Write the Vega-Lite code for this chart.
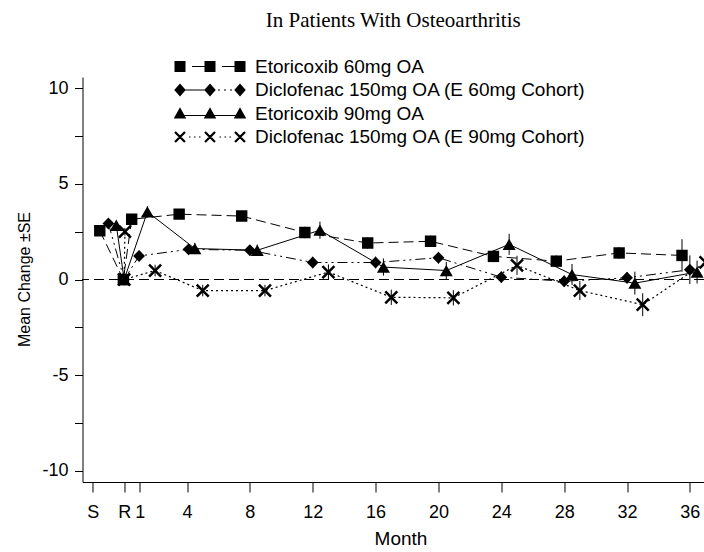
{
  "$schema": "https://vega.github.io/schema/vega-lite/v6.json",
  "width": 621.5,
  "height": 405,
  "autosize": {"type": "none"},
  "padding": {"left": 82.5, "top": 77, "right": 0, "bottom": 70},
  "background": "white",
  "title": {"text": "In Patients With  Osteoarthritis", "font": "Liberation Serif", "fontSize": 21, "fontWeight": "normal", "color": "black", "anchor": "middle", "frame": "group", "offset": 26, "dx": 0},
  "config": {"view": {"stroke": null}},
  "datasets": {
    "d": [
      {"series": "Diclofenac 150mg OA (E 90mg Cohort)", "seq": 0, "month": 0.05, "value": 2.5, "se": 0.2},
      {"series": "Diclofenac 150mg OA (E 90mg Cohort)", "seq": 1, "month": 0, "value": 0, "se": 0},
      {"series": "Diclofenac 150mg OA (E 90mg Cohort)", "seq": 2, "month": 1.97, "value": 0.47, "se": 0.3},
      {"series": "Diclofenac 150mg OA (E 90mg Cohort)", "seq": 3, "month": 5.0, "value": -0.58, "se": 0.3},
      {"series": "Diclofenac 150mg OA (E 90mg Cohort)", "seq": 4, "month": 8.96, "value": -0.58, "se": 0.3},
      {"series": "Diclofenac 150mg OA (E 90mg Cohort)", "seq": 5, "month": 13.0, "value": 0.39, "se": 0.4},
      {"series": "Diclofenac 150mg OA (E 90mg Cohort)", "seq": 6, "month": 17.0, "value": -0.93, "se": 0.4},
      {"series": "Diclofenac 150mg OA (E 90mg Cohort)", "seq": 7, "month": 20.95, "value": -0.96, "se": 0.4},
      {"series": "Diclofenac 150mg OA (E 90mg Cohort)", "seq": 8, "month": 25.0, "value": 0.74, "se": 0.5},
      {"series": "Diclofenac 150mg OA (E 90mg Cohort)", "seq": 9, "month": 29.0, "value": -0.58, "se": 0.5},
      {"series": "Diclofenac 150mg OA (E 90mg Cohort)", "seq": 10, "month": 33.0, "value": -1.32, "se": 0.6},
      {"series": "Diclofenac 150mg OA (E 90mg Cohort)", "seq": 11, "month": 37.0, "value": 0.9, "se": 0.6},
      {"series": "Etoricoxib 90mg OA", "seq": 0, "month": -0.5, "value": 2.84, "se": 0.2},
      {"series": "Etoricoxib 90mg OA", "seq": 1, "month": 0, "value": 0, "se": 0},
      {"series": "Etoricoxib 90mg OA", "seq": 2, "month": 1.48, "value": 3.54, "se": 0.3},
      {"series": "Etoricoxib 90mg OA", "seq": 3, "month": 4.5, "value": 1.62, "se": 0.3},
      {"series": "Etoricoxib 90mg OA", "seq": 4, "month": 8.47, "value": 1.53, "se": 0.3},
      {"series": "Etoricoxib 90mg OA", "seq": 5, "month": 12.46, "value": 2.58, "se": 0.45},
      {"series": "Etoricoxib 90mg OA", "seq": 6, "month": 16.5, "value": 0.65, "se": 0.45},
      {"series": "Etoricoxib 90mg OA", "seq": 7, "month": 20.5, "value": 0.47, "se": 0.45},
      {"series": "Etoricoxib 90mg OA", "seq": 8, "month": 24.5, "value": 1.84, "se": 0.55},
      {"series": "Etoricoxib 90mg OA", "seq": 9, "month": 28.5, "value": 0.26, "se": 0.55},
      {"series": "Etoricoxib 90mg OA", "seq": 10, "month": 32.5, "value": -0.19, "se": 0.6},
      {"series": "Etoricoxib 90mg OA", "seq": 11, "month": 36.46, "value": 0.39, "se": 0.6},
      {"series": "Diclofenac 150mg OA (E 60mg Cohort)", "seq": 0, "month": -1.0, "value": 2.93, "se": 0.2},
      {"series": "Diclofenac 150mg OA (E 60mg Cohort)", "seq": 1, "month": 0, "value": 0, "se": 0},
      {"series": "Diclofenac 150mg OA (E 60mg Cohort)", "seq": 2, "month": 0.95, "value": 1.23, "se": 0.25},
      {"series": "Diclofenac 150mg OA (E 60mg Cohort)", "seq": 3, "month": 4.1, "value": 1.58, "se": 0.25},
      {"series": "Diclofenac 150mg OA (E 60mg Cohort)", "seq": 4, "month": 8.0, "value": 1.53, "se": 0.25},
      {"series": "Diclofenac 150mg OA (E 60mg Cohort)", "seq": 5, "month": 12.0, "value": 0.89, "se": 0.3},
      {"series": "Diclofenac 150mg OA (E 60mg Cohort)", "seq": 6, "month": 16.0, "value": 0.89, "se": 0.3},
      {"series": "Diclofenac 150mg OA (E 60mg Cohort)", "seq": 7, "month": 20.0, "value": 1.14, "se": 0.3},
      {"series": "Diclofenac 150mg OA (E 60mg Cohort)", "seq": 8, "month": 24.0, "value": 0.12, "se": 0.3},
      {"series": "Diclofenac 150mg OA (E 60mg Cohort)", "seq": 9, "month": 28.0, "value": -0.09, "se": 0.3},
      {"series": "Diclofenac 150mg OA (E 60mg Cohort)", "seq": 10, "month": 32.0, "value": 0.09, "se": 0.3},
      {"series": "Diclofenac 150mg OA (E 60mg Cohort)", "seq": 11, "month": 36.0, "value": 0.51, "se": 0.75},
      {"series": "Etoricoxib 60mg OA", "seq": 0, "month": -1.55, "value": 2.55, "se": 0.2},
      {"series": "Etoricoxib 60mg OA", "seq": 1, "month": -0.05, "value": 0, "se": 0},
      {"series": "Etoricoxib 60mg OA", "seq": 2, "month": 0.48, "value": 3.15, "se": 0.25},
      {"series": "Etoricoxib 60mg OA", "seq": 3, "month": 3.5, "value": 3.42, "se": 0.25},
      {"series": "Etoricoxib 60mg OA", "seq": 4, "month": 7.48, "value": 3.32, "se": 0.25},
      {"series": "Etoricoxib 60mg OA", "seq": 5, "month": 11.5, "value": 2.46, "se": 0.3},
      {"series": "Etoricoxib 60mg OA", "seq": 6, "month": 15.5, "value": 1.91, "se": 0.3},
      {"series": "Etoricoxib 60mg OA", "seq": 7, "month": 19.5, "value": 2.0, "se": 0.3},
      {"series": "Etoricoxib 60mg OA", "seq": 8, "month": 23.5, "value": 1.21, "se": 0.3},
      {"series": "Etoricoxib 60mg OA", "seq": 9, "month": 27.5, "value": 0.96, "se": 0.3},
      {"series": "Etoricoxib 60mg OA", "seq": 10, "month": 31.5, "value": 1.39, "se": 0.3},
      {"series": "Etoricoxib 60mg OA", "seq": 11, "month": 35.5, "value": 1.26, "se": 0.85}
    ]
  },
  "data": {"name": "d"},
  "layer": [
    {
      "mark": {"type": "rule", "color": "black", "strokeWidth": 1, "strokeDash": [10, 5]},
      "encoding": {
        "y": {"datum": 0, "type": "quantitative", "scale": {"domain": [-10.6, 10.6], "nice": false, "zero": false}}
      }
    },
    {
      "transform": [{"filter": "datum.series == 'Etoricoxib 60mg OA'"}],
      "mark": {"type": "line", "strokeWidth": 1, "color": "black", "strokeDash": [10, 5], "clip": true},
      "encoding": {
        "x": {"field": "month", "type": "quantitative",
          "scale": {"domain": [-2.65, 36.9], "nice": false, "zero": false},
          "axis": {
            "values": [-2, 0, 1, 4, 8, 12, 16, 20, 24, 28, 32, 36],
            "labelExpr": "datum.value == -2 ? 'S' : datum.value == 0 ? 'R' : datum.label",
            "title": "Month", "grid": false,
            "tickSize": 10, "labelPadding": 11, "labelFontSize": 18, "labelFont": "Liberation Sans", "labelColor": "black",
            "tickColor": "black", "domainColor": "black", "labelFlush": false, "labelOverlap": false,
            "titleFontSize": 19, "titleFont": "Liberation Sans", "titleFontWeight": "normal", "titleColor": "black",
            "titleX": 318, "titleY": 62, "titleBaseline": "alphabetic", "titleAlign": "center"
          }
        },
        "y": {"field": "value", "type": "quantitative",
          "scale": {"domain": [-10.6, 10.6], "nice": false, "zero": false},
          "axis": {
            "values": [-10, -7.5, -5, -2.5, 0, 2.5, 5, 7.5, 10],
            "labelExpr": "datum.value % 5 == 0 ? toString(datum.value) : ''",
            "title": "Mean Change ±SE", "grid": false,
            "tickSize": 8, "labelPadding": 6.5, "labelFontSize": 18, "labelFont": "Liberation Sans", "labelColor": "black",
            "tickColor": "black", "domainColor": "black", "labelFlush": false, "labelOverlap": false,
            "titleFontSize": 16, "titleFont": "Liberation Sans", "titleFontWeight": "normal", "titleColor": "black",
            "titleX": -58, "titleY": 202, "titleAngle": -90, "titleAlign": "center", "titleBaseline": "middle",
            "encode": {"ticks": {"update": {"x2": {"signal": "datum.value % 5 == 0 ? -8 : -4"}}}}
          }
        },
        "order": {"field": "seq", "type": "quantitative"}
      }
    },
    {
      "transform": [{"filter": "datum.series == 'Diclofenac 150mg OA (E 60mg Cohort)'"}],
      "mark": {"type": "line", "strokeWidth": 1, "color": "black", "strokeDash": [10, 4, 2, 4, 2, 4], "clip": true},
      "encoding": {
        "x": {"field": "month", "type": "quantitative", "title": "Month"},
        "y": {"field": "value", "type": "quantitative", "title": "Mean Change ±SE"},
        "order": {"field": "seq", "type": "quantitative"}
      }
    },
    {
      "transform": [{"filter": "datum.series == 'Etoricoxib 90mg OA'"}],
      "mark": {"type": "line", "strokeWidth": 1, "color": "black", "clip": true},
      "encoding": {
        "x": {"field": "month", "type": "quantitative", "title": "Month"},
        "y": {"field": "value", "type": "quantitative", "title": "Mean Change ±SE"},
        "order": {"field": "seq", "type": "quantitative"}
      }
    },
    {
      "transform": [{"filter": "datum.series == 'Diclofenac 150mg OA (E 90mg Cohort)'"}],
      "mark": {"type": "line", "strokeWidth": 1.2, "color": "black", "strokeDash": [2, 3], "clip": true},
      "encoding": {
        "x": {"field": "month", "type": "quantitative", "title": "Month"},
        "y": {"field": "value", "type": "quantitative", "title": "Mean Change ±SE"},
        "order": {"field": "seq", "type": "quantitative"}
      }
    },
    {
      "mark": {"type": "errorbar", "color": "black", "thickness": 1, "clip": true},
      "encoding": {
        "x": {"field": "month", "type": "quantitative", "title": "Month"},
        "y": {"field": "value", "type": "quantitative", "title": "Mean Change ±SE"},
        "yError": {"field": "se"}
      }
    },
    {
      "transform": [{"filter": "datum.series == 'Diclofenac 150mg OA (E 90mg Cohort)'"}],
      "mark": {"type": "point", "shape": "M-1,-1L1,1M-1,1L1,-1", "size": 144, "strokeWidth": 2.5, "color": "black", "opacity": 1, "clip": true},
      "encoding": {
        "x": {"field": "month", "type": "quantitative", "title": "Month"},
        "y": {"field": "value", "type": "quantitative", "title": "Mean Change ±SE"}
      }
    },
    {
      "transform": [{"filter": "datum.series == 'Etoricoxib 90mg OA'"}],
      "mark": {"type": "point", "shape": "triangle-up", "size": 170, "filled": true, "color": "black", "opacity": 1, "clip": true},
      "encoding": {
        "x": {"field": "month", "type": "quantitative", "title": "Month"},
        "y": {"field": "value", "type": "quantitative", "title": "Mean Change ±SE"}
      }
    },
    {
      "transform": [{"filter": "datum.series == 'Diclofenac 150mg OA (E 60mg Cohort)'"}],
      "mark": {"type": "point", "shape": "diamond", "size": 140, "filled": true, "color": "black", "opacity": 1, "clip": true},
      "encoding": {
        "x": {"field": "month", "type": "quantitative", "title": "Month"},
        "y": {"field": "value", "type": "quantitative", "title": "Mean Change ±SE"}
      }
    },
    {
      "transform": [{"filter": "datum.series == 'Etoricoxib 60mg OA'"}],
      "mark": {"type": "point", "shape": "square", "size": 130, "filled": true, "color": "black", "opacity": 1, "clip": true},
      "encoding": {
        "x": {"field": "month", "type": "quantitative", "title": "Month"},
        "y": {"field": "value", "type": "quantitative", "title": "Mean Change ±SE"}
      }
    },
    {
      "transform": [{"filter": "false"}],
      "mark": {"type": "point", "filled": true, "color": "black", "opacity": 1},
      "encoding": {
        "x": {"field": "month", "type": "quantitative", "title": "Month"},
        "y": {"field": "value", "type": "quantitative", "title": "Mean Change ±SE"},
        "shape": {"field": "series", "type": "nominal",
          "scale": {
            "domain": ["Etoricoxib 60mg OA", "Diclofenac 150mg OA (E 60mg Cohort)", "Etoricoxib 90mg OA", "Diclofenac 150mg OA (E 90mg Cohort)"],
            "range": [
              "M-7.1,-1.1H-4.9V1.1H-7.1Z M-1.1,-1.1H1.1V1.1H-1.1Z M4.9,-1.1H7.1V1.1H4.9Z M-3.6,-0.1H-1.1V0.1H-3.6Z M2.4,-0.1H4.9V0.1H2.4Z",
              "M-6,-1.3L-4.85,0L-6,1.3L-7.15,0Z M0,-1.3L1.15,0L0,1.3L-1.15,0Z M6,-1.3L7.15,0L6,1.3L4.85,0Z M-6,-0.1H0V0.1H-6Z M1.6,-0.12H2V0.12H1.6Z M2.8,-0.12H3.2V0.12H2.8Z M4,-0.12H4.4V0.12H4Z",
              "M-6,-1.25L-4.75,1H-7.25Z M0,-1.25L1.25,1H-1.25Z M6,-1.25L7.25,1H4.75Z M-6,0.3H6V0.5H-6Z",
              "M-6.84,-1.16L-4.84,0.84L-5.16,1.16L-7.16,-0.84Z M-7.16,0.84L-5.16,-1.16L-4.84,-0.84L-6.84,1.16Z M-0.84,-1.16L1.16,0.84L0.84,1.16L-1.16,-0.84Z M-1.16,0.84L0.84,-1.16L1.16,-0.84L-0.84,1.16Z M5.16,-1.16L7.16,0.84L6.84,1.16L4.84,-0.84Z M4.84,0.84L6.84,-1.16L7.16,-0.84L5.16,1.16Z M-4.2,-0.12H-3.9V0.12H-4.2Z M-3.2,-0.12H-2.9V0.12H-3.2Z M-2.2,-0.12H-1.9V0.12H-2.2Z M1.9,-0.12H2.2V0.12H1.9Z M2.9,-0.12H3.2V0.12H2.9Z M3.9,-0.12H4.2V0.12H3.9Z"
            ]
          },
          "legend": {
            "title": null, "orient": "none", "legendX": 92.5, "legendY": -20, "direction": "vertical",
            "symbolSize": 100, "symbolStrokeWidth": 0, "symbolFillColor": "black", "symbolOpacity": 1,
            "symbolOffset": 25.5, "labelOffset": 35.5,
            "labelFontSize": 19, "labelFont": "Liberation Sans", "labelColor": "black",
            "rowPadding": 3.5, "padding": 0, "labelLimit": 0
          }
        }
      }
    }
  ]
}
